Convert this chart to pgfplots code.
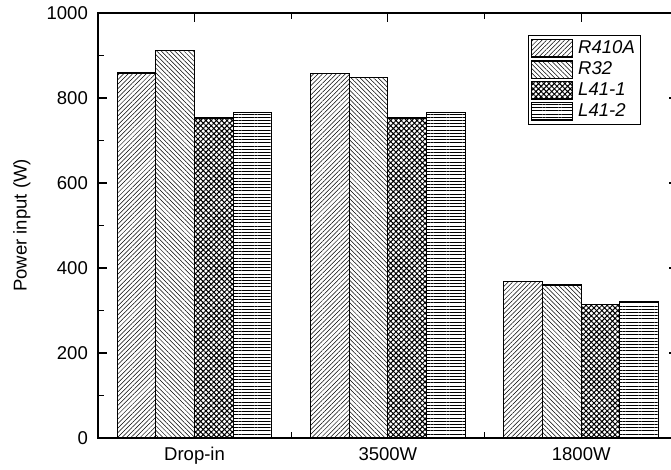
\documentclass[border=0pt]{standalone}
\usepackage{fontspec}
\setmainfont{Liberation Sans}
\usepackage{pgfplots}
\usepackage{pgfplotstable}
\pgfplotsset{compat=1.18}
\usetikzlibrary{patterns.meta}
\pgfplotstableread{
x R410A R32 L411 L412
0 859 911 753 765
1 858 849 753 765
2 369 360 315 320
}\powerdata
\newcommand{\fs}{\fontsize{13.9}{16}\selectfont}
\begin{document}
\begin{tikzpicture}
\begin{axis}[
  name=ax,
  scale only axis, width=435pt, height=318.75pt,
  xmin=-0.5, xmax=2.5, ymin=0, ymax=1000,
  ybar, bar width=0.2,
  xtick={0,1,2}, xticklabels={Drop-in,3500W,1800W},
  minor xtick={0.5,1.5},
  ytick={0,200,...,1000}, minor ytick={100,300,...,900},
  tick align=inside,
  major tick length=6.75pt, minor tick length=4.5pt,
  axis line style={line width=1.2pt},
  every tick/.style={black, line width=0.9pt},
  ticklabel style={font=\fs},
  yticklabel style={xshift=-4pt},
  xticklabel style={yshift=-3.6pt},
  /pgf/number format/assume math mode=true,
  /pgf/number format/1000 sep={},
  ylabel={Power input (W)},
  label style={font=\fs},
  ylabel style={at={(axis description cs:-0.131,0.5)}, anchor=center},
  legend style={at={(axis description cs:0.936,0.948)}, anchor=north east,
    draw=black, line width=0.8pt, font=\itshape\fs,
    nodes={inner sep=2pt}, row sep=0.6pt, column sep=2pt, inner xsep=2pt, inner ysep=2pt},
  legend cell align=left,
  mylegend/.style={legend image code/.code={\draw[##1, line width=0.8pt] (0pt,-6.4pt) rectangle (30.75pt,6.4pt);}},
  barstyle/.style={draw=black, line width=0.9pt, fill=white},
]
\addplot[barstyle, bar shift=-0.3, mylegend, pattern={Lines[angle=45,distance=2.4pt,line width=0.38pt]}] table[x=x,y=R410A]{\powerdata};
\addlegendentry{R410A}
\addplot[barstyle, bar shift=-0.1, mylegend, pattern={Lines[angle=-45,distance=2.4pt,line width=0.38pt]}] table[x=x,y=R32]{\powerdata};
\addlegendentry{R32}
\addplot[barstyle, bar shift=0.1, mylegend, pattern={Hatch[angle=45,distance=2.8pt,line width=0.75pt]}] table[x=x,y=L411]{\powerdata};
\addlegendentry{L41-1}
\addplot[barstyle, bar shift=0.3, mylegend, pattern={Lines[angle=0,distance=2.4pt,line width=0.45pt]}] table[x=x,y=L412]{\powerdata};
\addlegendentry{L41-2}
\end{axis}
\pgfresetboundingbox
\path ([xshift=-73.4pt,yshift=-23.25pt]ax.south west) rectangle ([xshift=429.85pt,yshift=328.5pt]ax.south west);
\end{tikzpicture}
\end{document}
